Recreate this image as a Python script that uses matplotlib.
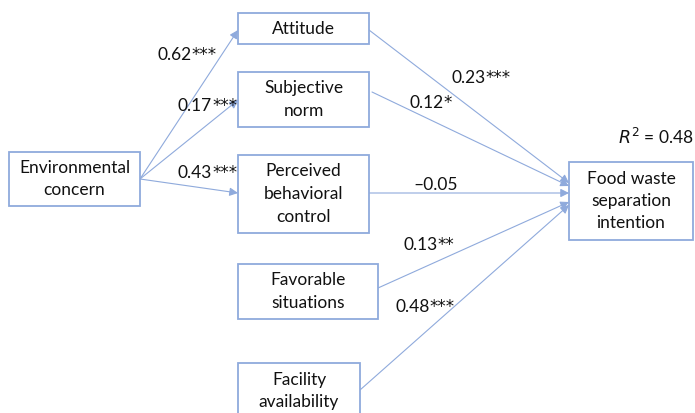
import matplotlib
matplotlib.use("Agg")
import matplotlib.pyplot as plt
from matplotlib.patches import Rectangle, FancyArrowPatch

# ---- data ----
source_label = "Environmental\nconcern"
mediator_labels = ["Attitude", "Subjective\nnorm", "Perceived\nbehavioral\ncontrol"]
situational_labels = ["Favorable\nsituations", "Facility\navailability"]
outcome_label = "Food waste\nseparation\nintention"
ec_coefs = [0.62, 0.17, 0.43]
ec_stars = ["***", "***", "***"]
out_coefs = [0.23, 0.12, -0.05, 0.13, 0.48]
out_stars = ["***", "*", "", "**", "***"]
r_squared = 0.48

# ---- layout (pixel coordinates) ----
W, H = 695, 413
fig = plt.figure(figsize=(W / 100, H / 100), dpi=100)
ax = fig.add_axes([0, 0, 1, 1])
ax.set_xlim(0, W)
ax.set_ylim(H, 0)
ax.axis("off")

FONT = "Lato"
FS = 12.5
BOX_EC = "#8FAADC"
LINE_C = "#8FAADC"
TXT_C = "#111111"

boxes = {
    "ec": (9, 152, 131, 54),
    "m0": (238, 13, 131, 31),
    "m1": (238, 72, 131, 55),
    "m2": (238, 155, 131, 78),
    "s0": (238, 264, 140, 55),
    "s1": (238, 363, 122, 60),
    "out": (569, 162, 124, 78),
}
labels = {
    "ec": source_label,
    "m0": mediator_labels[0], "m1": mediator_labels[1], "m2": mediator_labels[2],
    "s0": situational_labels[0], "s1": situational_labels[1],
    "out": outcome_label,
}
text_y_offset = {"s1": -2}

for k, (x, y, w, h) in boxes.items():
    ax.add_patch(Rectangle((x, y), w, h, fill=True, facecolor="white",
                           edgecolor=BOX_EC, linewidth=1.3, zorder=2))
    ax.text(x + w / 2, y + h / 2 + text_y_offset.get(k, 0), labels[k],
            ha="center", va="center", fontsize=FS, family=FONT,
            linespacing=1.5, color=TXT_C, zorder=3)

def arrow(p0, p1):
    a = FancyArrowPatch(p0, p1, arrowstyle="-|>,head_length=5,head_width=2.5",
                        color=LINE_C, linewidth=0.8, shrinkA=0, shrinkB=0,
                        mutation_scale=1, zorder=1)
    ax.add_patch(a)

def coef_label(left, y, v, s):
    t = f"{abs(v):.2f}"
    if v < 0:
        t = "\u2013" + t
    txt = ax.text(left, y, t, ha="left", va="center", fontsize=FS,
                  family=FONT, color=TXT_C, zorder=4)
    if s:
        ax.annotate(s, xy=(1, 0.5), xycoords=txt, xytext=(0, 0),
                    textcoords="offset points", ha="left", va="center",
                    fontsize=FS - 0.5, family="DejaVu Sans", color=TXT_C,
                    zorder=4)

# EC -> mediators
ec_start = (140, 179)
ec_ends = [(238, 30), (238, 100), (238, 193)]
ec_label_pos = [(157, 55), (178, 106), (178, 173)]
for end, v, s, lp in zip(ec_ends, ec_coefs, ec_stars, ec_label_pos):
    arrow(ec_start, end)
    coef_label(lp[0], lp[1], v, s)

# predictors -> outcome
starts = [(369, 30), (372, 92), (369, 193), (378, 288), (360, 390)]
ends = [(569, 183), (569, 186), (569, 193), (569, 202), (569, 205)]
out_label_pos = [(451, 78), (409, 103), (413, 185), (403, 245), (395, 307)]
for st, en, v, s, lp in zip(starts, ends, out_coefs, out_stars, out_label_pos):
    arrow(st, en)
    coef_label(lp[0], lp[1], v, s)

ax.text(694, 137, f"$R^2$ = {r_squared:.2f}", ha="right", va="center",
        fontsize=FS, family=FONT, color=TXT_C)

fig.savefig("out.png", dpi=100)
